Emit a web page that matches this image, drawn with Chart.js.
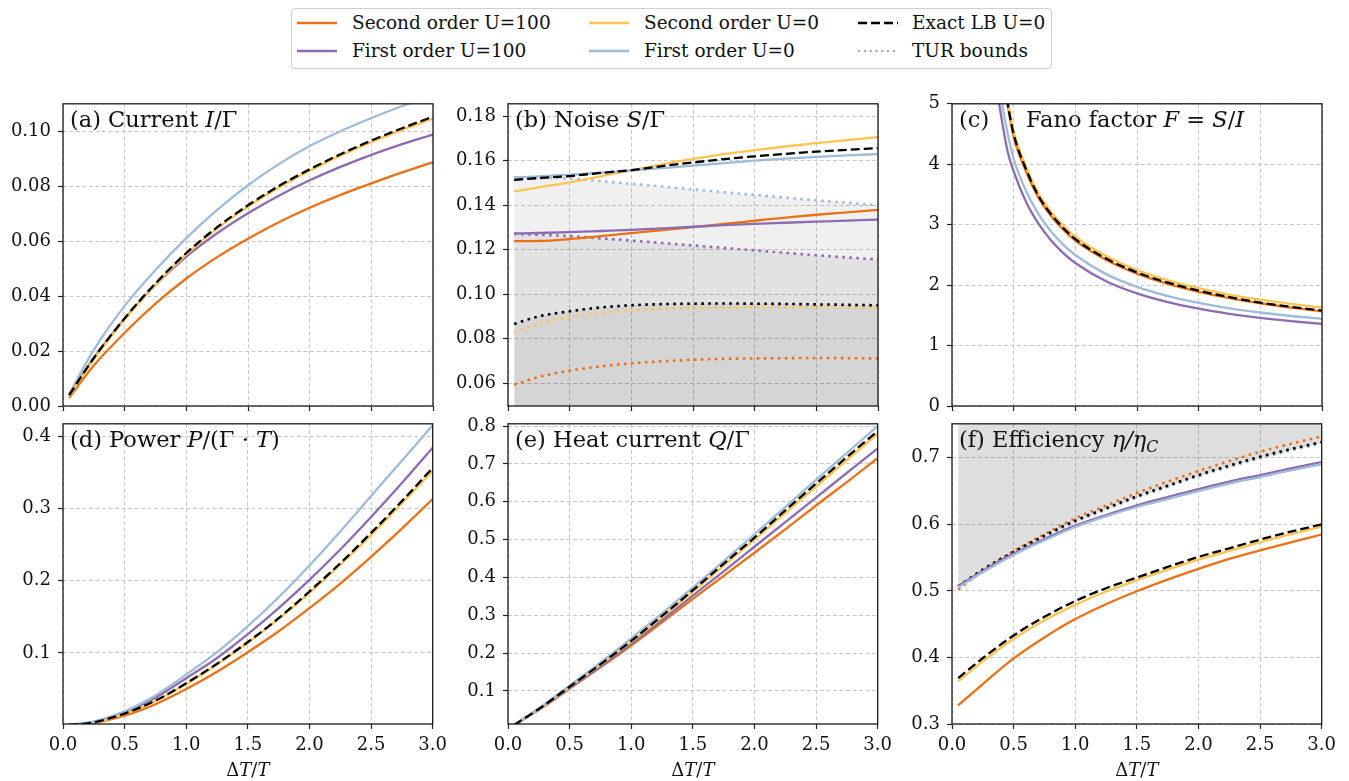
<!DOCTYPE html>
<html lang="en">
<head>
<meta charset="UTF-8">
<title>Thermoelectric figure</title>
<script src="https://cdn.jsdelivr.net/npm/chart.js"></script>
<style>
  body { margin: 0; background: #fff; width: 1349px; height: 781px; position: relative; overflow: hidden; font-family: "DejaVu Serif", serif; }
  canvas { position: absolute; }
  .legend { position: absolute; left: 291px; top: 8px; width: 759px; height: 59px; border: 1px solid #cfcfcf; border-radius: 4px; }
  .item { position: absolute; height: 20px; font-size: 18.5px; line-height: 20px; color: #111; white-space: nowrap; }
  .item svg { position: absolute; left: 0; top: 0; }
  .item span { position: absolute; top: 0; }
</style>
</head>
<body>
<div class="legend"></div>
<div id="legendItems"></div>

<script>
// x grids
const xMain = [0.05, 0.25, 0.5, 0.75, 1.0, 1.25, 1.5, 1.75, 2.0, 2.25, 2.5, 2.75, 3.0];
const xFano = [0.3, 0.35, 0.4, 0.45, 0.5, 0.6, 0.7, 0.8, 0.9, 1.0, 1.25, 1.5, 1.75, 2.0, 2.25, 2.5, 2.75, 3.0];
const xTicks = [0, 0.5, 1.0, 1.5, 2.0, 2.5, 3.0];

// (a) current
const curSO100 = [0.0030, 0.0148, 0.0267, 0.0373, 0.0465, 0.0543, 0.0610, 0.0670, 0.0723, 0.0770, 0.0812, 0.0852, 0.0889];
const curFO100 = [0.0040, 0.0175, 0.0318, 0.0442, 0.0545, 0.0630, 0.0703, 0.0767, 0.0823, 0.0872, 0.0916, 0.0955, 0.0990];
const curSO0   = [0.0036, 0.0170, 0.0315, 0.0442, 0.0553, 0.0647, 0.0727, 0.0797, 0.0858, 0.0913, 0.0962, 0.1007, 0.1048];
const curFO0   = [0.0045, 0.0205, 0.0365, 0.0496, 0.0612, 0.0715, 0.0805, 0.0882, 0.0948, 0.1002, 0.1050, 0.1094, 0.1135];
const curLB    = [0.0040, 0.0175, 0.0320, 0.0447, 0.0558, 0.0652, 0.0732, 0.0802, 0.0863, 0.0918, 0.0968, 0.1013, 0.1055];
const yTicksA = [0, 0.02, 0.04, 0.06, 0.08, 0.10];

// (b) noise
const noiSO100 = [0.1238, 0.1239, 0.1248, 0.1261, 0.1274, 0.1288, 0.1301, 0.1316, 0.1330, 0.1344, 0.1357, 0.1368, 0.1379];
const noiFO100 = [0.1273, 0.1275, 0.1279, 0.1284, 0.1289, 0.1296, 0.1303, 0.1310, 0.1316, 0.1321, 0.1326, 0.1331, 0.1335];
const noiSO0   = [0.1462, 0.1480, 0.1503, 0.1530, 0.1557, 0.1584, 0.1608, 0.1630, 0.1648, 0.1664, 0.1679, 0.1693, 0.1706];
const noiFO0   = [0.1525, 0.1530, 0.1537, 0.1546, 0.1556, 0.1567, 0.1578, 0.1589, 0.1600, 0.1609, 0.1617, 0.1624, 0.1630];
const noiLB    = [0.1514, 0.1522, 0.1531, 0.1545, 0.1558, 0.1576, 0.1592, 0.1607, 0.1620, 0.1631, 0.1641, 0.1649, 0.1657];
const turFO0   = [0.1527, 0.1524, 0.1520, 0.1508, 0.1496, 0.1484, 0.1471, 0.1458, 0.1446, 0.1434, 0.1422, 0.1411, 0.1400];
const turFO100 = [0.1271, 0.1267, 0.1261, 0.1251, 0.1241, 0.1230, 0.1219, 0.1208, 0.1197, 0.1186, 0.1175, 0.1165, 0.1156];
const turLB    = [0.0866, 0.0900, 0.0923, 0.0940, 0.0950, 0.0955, 0.0957, 0.0958, 0.0957, 0.0956, 0.0954, 0.0952, 0.0950];
const turSO0   = [0.0828, 0.0868, 0.0896, 0.0915, 0.0927, 0.0934, 0.0938, 0.0940, 0.0941, 0.0941, 0.0941, 0.0940, 0.0938];
const turSO100 = [0.0593, 0.0628, 0.0656, 0.0675, 0.0689, 0.0698, 0.0705, 0.0709, 0.0711, 0.0712, 0.0713, 0.0712, 0.0711];
const yTicksB = [0.06, 0.08, 0.10, 0.12, 0.14, 0.16, 0.18];

// (c) Fano factor
const fanoSO100 = [8.2, 6.8, 5.75, 5.0, 4.46, 3.88, 3.45, 3.15, 2.92, 2.735, 2.415, 2.19, 2.02, 1.89, 1.785, 1.70, 1.628, 1.565];
const fanoFO100 = [6.3, 5.45, 4.78, 4.22, 3.88, 3.38, 3.02, 2.745, 2.535, 2.367, 2.064, 1.862, 1.718, 1.61, 1.526, 1.458, 1.404, 1.358];
const fanoSO0   = [8.4, 7.0, 5.85, 5.08, 4.55, 3.96, 3.52, 3.22, 2.99, 2.80, 2.48, 2.25, 2.08, 1.95, 1.84, 1.76, 1.69, 1.63];
const fanoFO0   = [6.9, 5.9, 5.08, 4.52, 4.09, 3.56, 3.18, 2.896, 2.675, 2.499, 2.182, 1.97, 1.819, 1.706, 1.617, 1.547, 1.489, 1.441];
const fanoLB    = [8.3, 6.9, 5.8, 5.03, 4.5, 3.92, 3.48, 3.18, 2.95, 2.76, 2.44, 2.21, 2.04, 1.91, 1.80, 1.71, 1.64, 1.578];
const yTicksC = [0, 1, 2, 3, 4, 5];

// (d) power
const powSO100 = [0.0002, 0.0030, 0.0130, 0.0290, 0.050, 0.074, 0.101, 0.130, 0.162, 0.196, 0.233, 0.272, 0.313];
const powFO100 = [0.0003, 0.0045, 0.0180, 0.0380, 0.065, 0.093, 0.126, 0.162, 0.201, 0.243, 0.288, 0.335, 0.384];
const powSO0   = [0.0002, 0.0038, 0.0155, 0.0335, 0.057, 0.084, 0.114, 0.147, 0.183, 0.222, 0.263, 0.307, 0.352];
const powFO0   = [0.0003, 0.0050, 0.0190, 0.0410, 0.070, 0.101, 0.137, 0.177, 0.221, 0.268, 0.317, 0.366, 0.415];
const powLB    = [0.0002, 0.0040, 0.0160, 0.0340, 0.058, 0.085, 0.115, 0.148, 0.185, 0.224, 0.266, 0.310, 0.356];
const yTicksD = [0.1, 0.2, 0.3, 0.4];

// (e) heat current
const heatSO100 = [0.010, 0.050, 0.106, 0.162, 0.220, 0.281, 0.343, 0.404, 0.465, 0.527, 0.590, 0.652, 0.715];
const heatFO100 = [0.010, 0.050, 0.107, 0.164, 0.224, 0.287, 0.352, 0.416, 0.481, 0.546, 0.611, 0.676, 0.741];
const heatSO0   = [0.010, 0.051, 0.110, 0.169, 0.230, 0.295, 0.362, 0.431, 0.500, 0.570, 0.640, 0.710, 0.780];
const heatFO0   = [0.011, 0.054, 0.114, 0.175, 0.239, 0.305, 0.373, 0.443, 0.514, 0.586, 0.658, 0.729, 0.800];
const heatLB    = [0.010, 0.052, 0.111, 0.170, 0.232, 0.298, 0.366, 0.436, 0.505, 0.577, 0.648, 0.718, 0.787];
const yTicksE = [0.1, 0.2, 0.3, 0.4, 0.5, 0.6, 0.7, 0.8];

// (f) efficiency
const effSO100 = [0.328, 0.360, 0.3985, 0.430, 0.4576, 0.480, 0.4995, 0.517, 0.533, 0.548, 0.561, 0.573, 0.5847];
const effFO100 = [0.507, 0.530, 0.556, 0.578, 0.598, 0.614, 0.6286, 0.641, 0.653, 0.664, 0.674, 0.684, 0.6936];
const effSO0   = [0.364, 0.394, 0.428, 0.456, 0.479, 0.499, 0.516, 0.532, 0.547, 0.560, 0.573, 0.585, 0.5966];
const effFO0   = [0.505, 0.528, 0.554, 0.576, 0.596, 0.612, 0.626, 0.638, 0.650, 0.661, 0.671, 0.681, 0.690];
const effLB    = [0.369, 0.399, 0.433, 0.461, 0.4847, 0.504, 0.520, 0.536, 0.551, 0.564, 0.577, 0.589, 0.600];
const effTurSO100 = [0.502, 0.530, 0.5596, 0.585, 0.609, 0.628, 0.647, 0.664, 0.680, 0.695, 0.709, 0.721, 0.732];
const effTurLB    = [0.507, 0.532, 0.5586, 0.583, 0.6054, 0.624, 0.642, 0.658, 0.674, 0.688, 0.7015, 0.713, 0.7236];
const effTurFO0   = [0.506, 0.531, 0.557, 0.581, 0.603, 0.622, 0.640, 0.656, 0.672, 0.686, 0.699, 0.711, 0.7215];
const yTicksF = [0.3, 0.4, 0.5, 0.6, 0.7];

const FONT = '"DejaVu Serif", serif';
const COL = { so100: '#ec7014', fo100: '#8c6bb1', so0: '#fec44f', fo0: '#9ebcda', lb: '#000000' };

function pts(xs, ys) { return xs.map((x, i) => ({ x: x, y: ys[i] })); }

function solid(xs, ys, color) {
    return { data: pts(xs, ys), borderColor: color, borderWidth: 2.3, pointRadius: 0, fill: false, cubicInterpolationMode: 'monotone' };
}
function dashed(xs, ys) {
    return { data: pts(xs, ys), borderColor: '#000', borderWidth: 2.3, borderDash: [9, 4], pointRadius: 0, fill: false, cubicInterpolationMode: 'monotone' };
}
function dotted(xs, ys, color, fill, shade) {
    return { data: pts(xs, ys), borderColor: color, borderWidth: 2.6, borderDash: [2.6, 4.4], pointRadius: 0,
             fill: fill || false, backgroundColor: shade || 'transparent', cubicInterpolationMode: 'monotone' };
}

// texts drawn on each panel: titles and x axis label
const decoById = {};

function drawRich(ctx, x, y, parts, size, align) {
    const fontFor = st => (st === 'n' ? '' : 'italic ') + (st === 's' ? size * 0.7 : size) + 'px ' + FONT;
    let total = 0;
    parts.forEach(p => { ctx.font = fontFor(p[1]); total += ctx.measureText(p[0]).width; });
    let cx = align === 'center' ? x - total / 2 : x;
    parts.forEach(p => {
        ctx.font = fontFor(p[1]);
        ctx.fillText(p[0], cx, y + (p[1] === 's' ? size * 0.22 : 0));
        cx += ctx.measureText(p[0]).width;
    });
}

Chart.register({
    id: 'deco',
    afterDraw(chart) {
        const d = decoById[chart.canvas.id];
        if (!d) return;
        const ctx = chart.ctx, a = chart.chartArea;
        ctx.save();
        ctx.strokeStyle = '#1a1a1a';
        ctx.lineWidth = 1.3;
        ctx.strokeRect(a.left, a.top, a.right - a.left, a.bottom - a.top);
        ctx.fillStyle = '#111';
        ctx.textBaseline = 'alphabetic';
        d.titles.forEach(t => drawRich(ctx, a.left + t.dx, a.top + 23.5, t.parts, 22.5, 'left'));
        if (d.xTitle) {
            drawRich(ctx, (a.left + a.right) / 2, a.bottom + 51.7, [['Δ', 'n'], ['T', 'i'], ['/', 'n'], ['T', 'i']], 18, 'center');
        }
        ctx.restore();
    }
});

function makePanel(id, box, yMin, yMax, yTicks, digits, datasets, titles, showX) {
    const padT = 14, padR = 20, yW = 60;
    const bottom = showX ? 57 : 30;
    const w = yW + box.W + padR, h = padT + box.H + bottom;
    const canvas = document.createElement('canvas');
    canvas.id = id;
    canvas.width = w;
    canvas.height = h;
    canvas.style.left = (box.L - yW) + 'px';
    canvas.style.top = (box.T - padT) + 'px';
    document.body.appendChild(canvas);
    decoById[id] = { titles: titles, xTitle: showX };

    const grid = { color: '#c8c8c8', lineWidth: 1, tickColor: '#222', tickLength: 5, tickWidth: 1.2 };
    const border = { display: false, dash: [4, 2.5] };
    const tickFont = { family: FONT, size: 18 };

    new Chart(canvas.getContext('2d'), {
        type: 'line',
        data: { datasets: datasets },
        options: {
            responsive: false,
            animation: false,
            layout: { padding: { top: padT, right: padR, left: 0, bottom: 0 } },
            plugins: { legend: { display: false }, tooltip: { enabled: false }, filler: { drawTime: 'beforeDatasetsDraw' } },
            scales: {
                x: {
                    type: 'linear', min: 0, max: 3,
                    afterBuildTicks: s => { s.ticks = xTicks.map(v => ({ value: v })); },
                    afterFit: s => { s.height = bottom; },
                    grid: grid, border: border,
                    ticks: { display: showX, font: tickFont, color: '#111', padding: 6, maxRotation: 0,
                             callback: v => Number(v).toFixed(1) }
                },
                y: {
                    type: 'linear', min: yMin, max: yMax,
                    afterBuildTicks: s => { s.ticks = yTicks.map(v => ({ value: v })); },
                    afterFit: s => { s.width = yW; },
                    grid: grid, border: border,
                    ticks: { font: tickFont, color: '#111', padding: 7, callback: v => Number(v).toFixed(digits) }
                }
            }
        }
    });
}

const TOP = { T: 100, H: 306 }, BOT = { T: 420, H: 304 };
const W = 370;
const SHADE_B = 'rgba(0,0,0,0.06)';

makePanel('pa', { L: 63, T: TOP.T, W: W, H: TOP.H }, 0, 0.1102, yTicksA, 2, [
    dashed(xMain, curLB),
    solid(xMain, curFO0, COL.fo0),
    solid(xMain, curSO0, COL.so0),
    solid(xMain, curFO100, COL.fo100),
    solid(xMain, curSO100, COL.so100)
], [{ dx: 7, parts: [['(a) Current ', 'n'], ['I', 'i'], ['/Γ', 'n']] }], false);

makePanel('pb', { L: 508, T: TOP.T, W: W, H: TOP.H }, 0.0497, 0.1856, yTicksB, 2, [
    dashed(xMain, noiLB),
    solid(xMain, noiFO0, COL.fo0),
    solid(xMain, noiSO0, COL.so0),
    solid(xMain, noiFO100, COL.fo100),
    solid(xMain, noiSO100, COL.so100),
    dotted(xMain, turLB, COL.lb, 'start', SHADE_B),
    dotted(xMain, turFO0, COL.fo0, 'start', SHADE_B),
    dotted(xMain, turSO0, COL.so0),
    dotted(xMain, turFO100, COL.fo100, 'start', SHADE_B),
    dotted(xMain, turSO100, COL.so100)
], [{ dx: 7, parts: [['(b) Noise ', 'n'], ['S', 'i'], ['/Γ', 'n']] }], false);

makePanel('pc', { L: 952, T: TOP.T, W: W, H: TOP.H }, 0, 5, yTicksC, 0, [
    dashed(xFano, fanoLB),
    solid(xFano, fanoFO0, COL.fo0),
    solid(xFano, fanoSO0, COL.so0),
    solid(xFano, fanoFO100, COL.fo100),
    solid(xFano, fanoSO100, COL.so100)
], [
    { dx: 7, parts: [['(c)', 'n']] },
    { dx: 74, parts: [['Fano factor ', 'n'], ['F', 'i'], [' = ', 'n'], ['S', 'i'], ['/', 'n'], ['I', 'i']] }
], false);

makePanel('pd', { L: 63, T: BOT.T, W: W, H: BOT.H }, 0.0016, 0.417, yTicksD, 1, [
    dashed(xMain, powLB),
    solid(xMain, powFO0, COL.fo0),
    solid(xMain, powSO0, COL.so0),
    solid(xMain, powFO100, COL.fo100),
    solid(xMain, powSO100, COL.so100)
], [{ dx: 7, parts: [['(d) Power ', 'n'], ['P', 'i'], ['/(Γ · ', 'n'], ['T', 'i'], [')', 'n']] }], true);

makePanel('pe', { L: 508, T: BOT.T, W: W, H: BOT.H }, 0.0124, 0.806, yTicksE, 1, [
    dashed(xMain, heatLB),
    solid(xMain, heatFO0, COL.fo0),
    solid(xMain, heatSO0, COL.so0),
    solid(xMain, heatFO100, COL.fo100),
    solid(xMain, heatSO100, COL.so100)
], [{ dx: 7, parts: [['(e) Heat current ', 'n'], ['Q', 'i'], ['/Γ', 'n']] }], true);

makePanel('pf', { L: 952, T: BOT.T, W: W, H: BOT.H }, 0.3, 0.751, yTicksF, 1, [
    dashed(xMain, effLB),
    solid(xMain, effFO0, COL.fo0),
    solid(xMain, effSO0, COL.so0),
    solid(xMain, effFO100, COL.fo100),
    solid(xMain, effSO100, COL.so100),
    dotted(xMain, effTurLB, COL.lb),
    dotted(xMain, effTurFO0, COL.fo0, 'end', 'rgba(0,0,0,0.13)'),
    dotted(xMain, effTurSO100, COL.so100)
], [{ dx: 7, parts: [['(f) Efficiency ', 'n'], ['η/η', 'i'], ['C', 's']] }], true);

// legend
const legendEntries = [
    { label: 'Second order U=100', color: COL.so100, style: 'solid', x: 297, y: 13.3 },
    { label: 'First order U=100', color: COL.fo100, style: 'solid', x: 297, y: 40.7 },
    { label: 'Second order U=0', color: COL.so0, style: 'solid', x: 589, y: 13.3 },
    { label: 'First order U=0', color: COL.fo0, style: 'solid', x: 589, y: 40.7 },
    { label: 'Exact LB U=0', color: '#000', style: 'dashed', x: 858, y: 13.3 },
    { label: 'TUR bounds', color: '#a8a8a8', style: 'dotted', x: 858, y: 40.7 }
];
const holder = document.getElementById('legendItems');
legendEntries.forEach(e => {
    const dash = e.style === 'dashed' ? 'stroke-dasharray="9 4"' : (e.style === 'dotted' ? 'stroke-dasharray="2.2 3.6"' : '');
    const sw = e.style === 'dotted' ? 2 : 2.5;
    const div = document.createElement('div');
    div.className = 'item';
    div.style.left = e.x + 'px';
    div.style.top = e.y + 'px';
    div.innerHTML = '<svg width="40" height="20"><line x1="0" y1="10" x2="40" y2="10" stroke="' + e.color +
        '" stroke-width="' + sw + '" ' + dash + '/></svg><span style="left:' + (e.x === 858 ? 54 : 55) + 'px">' + e.label + '</span>';
    holder.appendChild(div);
});
</script>
</body>
</html>
